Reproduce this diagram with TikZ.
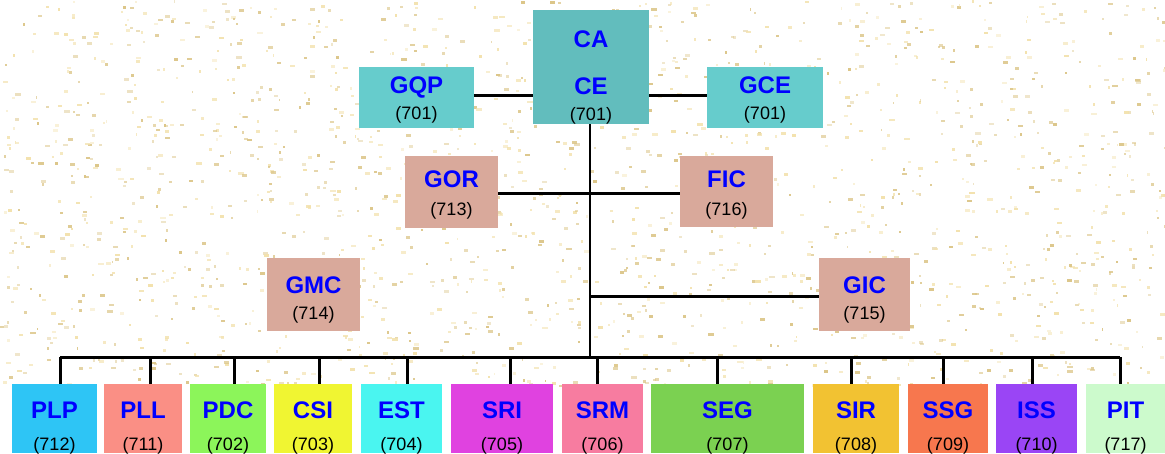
\documentclass[tikz,border=0pt]{standalone}
\usepackage{fontspec}
\setmainfont{Liberation Sans}
\usetikzlibrary{calc}

\definecolor{titleblue}{HTML}{0000FF}
\definecolor{headbox}{HTML}{62BDBD}
\definecolor{staffbox}{HTML}{66CCCC}
\definecolor{tanbox}{HTML}{D9A99B}
\definecolor{cPLP}{HTML}{2EC5F5}
\definecolor{cPLL}{HTML}{FA8F85}
\definecolor{cPDC}{HTML}{8CF55A}
\definecolor{cCSI}{HTML}{F0F532}
\definecolor{cEST}{HTML}{4AF5F0}
\definecolor{cSRI}{HTML}{E042E0}
\definecolor{cSRM}{HTML}{F77CA0}
\definecolor{cSEG}{HTML}{7BD151}
\definecolor{cSIR}{HTML}{F2C232}
\definecolor{cSSG}{HTML}{F7774E}
\definecolor{cISS}{HTML}{9A45F5}
\definecolor{cPIT}{HTML}{CCFACC}
\definecolor{specka}{HTML}{DCC689}
\definecolor{speckb}{HTML}{F3E2AE}

\tikzset{
  unitbox/.style={draw=none, inner sep=0pt, outer sep=0pt, anchor=north west},
  titletext/.style={text=titleblue, font=\fontsize{24}{24}\selectfont\bfseries, anchor=base, inner sep=0pt},
  codetext/.style={text=black, font=\fontsize{18}{18}\selectfont, anchor=base, inner sep=0pt},
  link/.style={line width=3pt, black},
}

% #1 name, #2 fill, #3 x1, #4 y1, #5 x2, #6 y2, #7 title, #8 code
\newcommand\orgunit[8]{%
  \node[unitbox, fill=#2, minimum width={(#5-#3)*1pt}, minimum height={(#6-#4)*1pt}] (#1) at (#3,#4) {};
  \node[titletext] (#1-t) at ($(#1.north)+(0,\titledrop)$) {#7};
  \node[codetext] (#1-c) at ($(#1.north)+(0,\codedrop)$) {#8};
}
% bottom-row unit with its drop line position #9
\newcommand\deptunit[9]{%
  \orgunit{#1}{#2}{#3}{#4}{#5}{#6}{#7}{#8}
  \coordinate (#1-drop) at (#9,#4);
}

\begin{document}
\begin{tikzpicture}[x=1pt, y=-1pt]
  \useasboundingbox (0,0) rectangle (1165,453);
  \fill[white] (0,0) rectangle (1165,453);

  % paper speckle texture
  \pgfmathsetseed{4242}
  \foreach \i in {1,...,1800}{
    \pgfmathsetmacro\px{rnd*1165}
    \pgfmathsetmacro\py{rnd*385}
    \pgfmathsetmacro\pw{1.5+rnd*4}
    \pgfmathsetmacro\po{0.4+0.6*rnd}
    \pgfmathparse{rnd>0.5 ? 1 : 0}
    \ifnum\pgfmathresult=1
      \fill[specka, fill opacity=\po] (\px,\py) rectangle ++(\pw,2.5);
    \else
      \fill[speckb, fill opacity=\po] (\px,\py) rectangle ++(\pw,2.5);
    \fi
  }

  % top management
  \node[unitbox, fill=headbox, minimum width=116pt, minimum height=114pt] (ca) at (533,10) {};
  \node[titletext] (ca-t) at ($(ca.north)+(0,37)$) {CA};
  \node[titletext] (ca-t2) at ($(ca.north)+(0,84)$) {CE};
  \node[codetext] (ca-c) at ($(ca.north)+(0,110)$) {(701)};

  \def\titledrop{26}\def\codedrop{52}
  \orgunit{gqp}{staffbox}{359}{67}{474}{128}{GQP}{(701)}
  \orgunit{gce}{staffbox}{707}{67}{823}{128}{GCE}{(701)}

  \def\titledrop{31}\def\codedrop{59}
  \orgunit{gor}{tanbox}{405}{156}{498}{228}{GOR}{(713)}
  \orgunit{fic}{tanbox}{680}{156}{773}{227}{FIC}{(716)}

  \def\titledrop{35}\def\codedrop{61}
  \orgunit{gmc}{tanbox}{267}{258}{360}{331}{GMC}{(714)}
  \orgunit{gic}{tanbox}{819}{258}{910}{331}{GIC}{(715)}

  % departments
  \def\titledrop{34}\def\codedrop{66}
  \deptunit{plp}{cPLP}{12}{384}{97}{453}{PLP}{(712)}{60}
  \deptunit{pll}{cPLL}{104}{384}{182}{453}{PLL}{(711)}{150}
  \deptunit{pdc}{cPDC}{190}{384}{266}{453}{PDC}{(702)}{234}
  \deptunit{csi}{cCSI}{274}{384}{352}{453}{CSI}{(703)}{319}
  \deptunit{est}{cEST}{361}{384}{442}{453}{EST}{(704)}{407}
  \deptunit{sri}{cSRI}{451}{384}{553}{453}{SRI}{(705)}{510}
  \deptunit{srm}{cSRM}{562}{384}{643}{453}{SRM}{(706)}{597}
  \deptunit{seg}{cSEG}{651}{384}{804}{453}{SEG}{(707)}{717}
  \deptunit{sir}{cSIR}{813}{384}{899}{453}{SIR}{(708)}{851}
  \deptunit{ssg}{cSSG}{908}{384}{988}{453}{SSG}{(709)}{943}
  \deptunit{iss}{cISS}{996}{384}{1077}{453}{ISS}{(710)}{1032}
  \deptunit{pit}{cPIT}{1086}{384}{1165}{453}{PIT}{(717)}{1120}

  % connectors
  \coordinate (trunk) at (590,357);
  \draw[link] (gqp.east |- 0,95) -- (ca.west |- 0,95);
  \draw[link] (ca.east |- 0,95) -- (gce.west |- 0,95);
  \draw[link, line width=2.4pt] (ca.south -| trunk) -- (trunk);
  \draw[link] (gor.east |- 0,193) -- (fic.west |- 0,193);
  \draw[link] (trunk |- 0,296) -- (gic.west |- 0,296);
  \draw[link] (plp-drop |- trunk) -- (pit-drop |- trunk);
  \foreach \d in {plp,pll,pdc,csi,est,sri,srm,seg,sir,ssg,iss,pit}{
    \draw[link] (\d-drop |- trunk) -- (\d-drop);
  }
\end{tikzpicture}
\end{document}
